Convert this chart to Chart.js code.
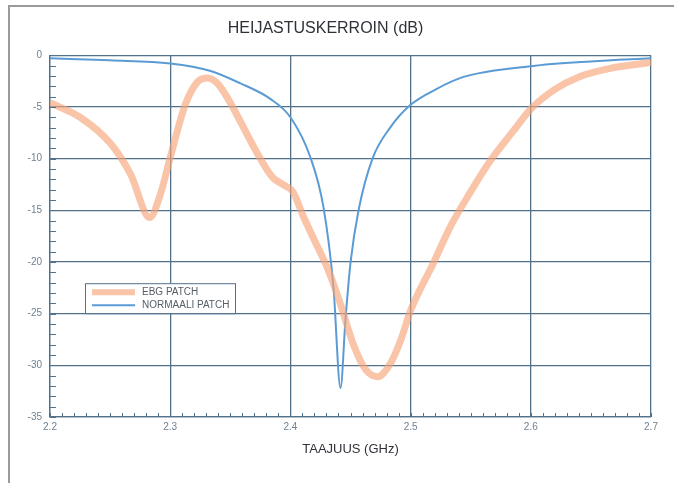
<!DOCTYPE html>
<html>
<head>
<meta charset="utf-8">
<script src="https://cdn.jsdelivr.net/npm/chart.js@4"></script>
<style>
  html, body { margin: 0; padding: 0; background: #fff; }
  #wrap { position: relative; width: 674px; height: 483px; }
  #frame { position: absolute; left: 8px; top: 5px; right: -10px; bottom: -10px;
           border-left: 2px solid #9a9a9a; border-top: 2px solid #9a9a9a; pointer-events: none; }
</style>
</head>
<body>
<div id="wrap">
  <canvas id="refChart" width="674" height="483"></canvas>
  <div id="frame"></div>
</div>
<script>
// data
const seriesNames = ['EBG PATCH', 'NORMAALI PATCH'];

const ebgFreq = [2.2, 2.225, 2.25, 2.267, 2.283, 2.2917, 2.3, 2.3125, 2.3225, 2.331, 2.339, 2.3475,
    2.3725, 2.385, 2.395, 2.402, 2.4108, 2.42, 2.4308, 2.44, 2.4525, 2.4625, 2.4725, 2.4833, 2.492,
    2.5, 2.519, 2.533, 2.55, 2.567, 2.585, 2.6, 2.62, 2.64, 2.665, 2.7];
const ebgValues = [-4.6, -6.0, -8.5, -11.5, -15.7, -13.5, -9.9, -4.8, -2.6, -2.2, -2.7, -4.1,
    -9.5, -11.8, -12.6, -13.2, -15.6, -17.9, -20.6, -23.5, -28, -30.4, -31.1, -29.8, -27.5,
    -24.7, -20.1, -16.6, -13.2, -10.1, -7.4, -5.2, -3.3, -2.1, -1.3, -0.7];

const normFreq = [2.2, 2.25, 2.3, 2.333, 2.358, 2.383, 2.4, 2.4167, 2.4275, 2.4358, 2.4417, 2.4458,
    2.45, 2.4567, 2.4683, 2.483, 2.5, 2.521, 2.544, 2.6, 2.65, 2.7];
const normValues = [-0.3, -0.5, -0.8, -1.5, -2.7, -4.2, -6.0, -9.9, -14.7, -22.4, -32.2, -25.6,
    -20.1, -15, -10, -7, -4.8, -3.3, -2.1, -1.06, -0.6, -0.3];

const xTicks = [2.2, 2.3, 2.4, 2.5, 2.6, 2.7];
const yTicks = [0, -5, -10, -15, -20, -25, -30, -35];

const gridColor = '#52718a';
const orange = 'rgba(246, 165, 120, 0.65)';
const blue = '#5b9bd5';

// minor ticks + legend box drawn inside the plot
const extras = {
    id: 'extras',
    afterDatasetsDraw(chart) {
        const {ctx, chartArea, scales} = chart;
        ctx.save();
        ctx.strokeStyle = gridColor;
        ctx.lineWidth = 1;
        ctx.beginPath();
        for (let v = 0; v >= -35; v -= 1) {
            const y = Math.round(scales.y.getPixelForValue(v)) + 0.5;
            ctx.moveTo(chartArea.left, y);
            ctx.lineTo(chartArea.left + 6, y);
        }
        for (let i = 0; i <= 50; i++) {
            const x = Math.round(scales.x.getPixelForValue(2.2 + i * 0.01)) + 0.5;
            ctx.moveTo(x, chartArea.bottom);
            ctx.lineTo(x, chartArea.bottom - 4);
        }
        ctx.stroke();

        // legend
        const lx = chartArea.left + 35, ly = chartArea.top + 228, lw = 150, lh = 30;
        ctx.fillStyle = '#fff';
        ctx.fillRect(lx, ly, lw, lh);
        ctx.strokeStyle = gridColor;
        ctx.strokeRect(lx + 0.5, ly + 0.5, lw, lh);
        const cols = [orange, blue];
        const widths = [6, 2];
        ctx.font = '10px "Liberation Sans", Arial, sans-serif';
        ctx.textBaseline = 'middle';
        seriesNames.forEach((name, i) => {
            const yy = ly + 9 + i * 13;
            ctx.strokeStyle = cols[i];
            ctx.lineWidth = widths[i];
            ctx.beginPath();
            ctx.moveTo(lx + 7, yy);
            ctx.lineTo(lx + 50, yy);
            ctx.stroke();
            ctx.fillStyle = '#555d66';
            ctx.fillText(name, lx + 57, yy);
        });
        ctx.restore();
    }
};

const ctx1 = document.getElementById('refChart').getContext('2d');
new Chart(ctx1, {
    type: 'line',
    data: {
        datasets: [{
            label: seriesNames[0],
            data: ebgFreq.map((f, i) => ({x: f, y: ebgValues[i]})),
            borderColor: orange,
            borderWidth: 7,
            pointRadius: 0,
            cubicInterpolationMode: 'monotone'
        }, {
            label: seriesNames[1],
            data: normFreq.map((f, i) => ({x: f, y: normValues[i]})),
            borderColor: blue,
            borderWidth: 2,
            pointRadius: 0,
            cubicInterpolationMode: 'monotone'
        }]
    },
    options: {
        responsive: false,
        animation: false,
        layout: { padding: { left: 0, right: 23, top: 0, bottom: 16 } },
        plugins: {
            legend: { display: false },
            tooltip: { enabled: false },
            title: {
                display: true,
                text: 'HEIJASTUSKERROIN (dB)',
                color: '#2e3238',
                font: { family: '"Liberation Sans", Arial, sans-serif', size: 16, weight: 'normal' },
                padding: { top: 19, bottom: 17 }
            }
        },
        scales: {
            x: {
                type: 'linear',
                min: 2.2,
                max: 2.7,
                afterBuildTicks: (scale) => { scale.ticks = xTicks.map(v => ({value: v})); },
                afterFit: (scale) => { scale.height = 50; },
                ticks: {
                    color: '#6f8193',
                    font: { family: '"Liberation Sans", Arial, sans-serif', size: 10 },
                    padding: 4,
                    maxRotation: 0,
                    callback: (v) => v.toFixed(1)
                },
                grid: { color: gridColor, lineWidth: 1.3, drawTicks: false },
                border: { color: gridColor, width: 1.3 },
                title: {
                    display: true,
                    text: 'TAAJUUS (GHz)',
                    color: '#2e3238',
                    font: { family: '"Liberation Sans", Arial, sans-serif', size: 13 },
                    padding: { top: 0, bottom: 10 }
                }
            },
            y: {
                min: -35,
                max: 0,
                afterBuildTicks: (scale) => { scale.ticks = yTicks.map(v => ({value: v})); },
                afterFit: (scale) => { scale.width = 50; },
                ticks: {
                    color: '#6f8193',
                    font: { family: '"Liberation Sans", Arial, sans-serif', size: 10 },
                    padding: 8
                },
                grid: { color: gridColor, lineWidth: 1.3, drawTicks: false },
                border: { color: gridColor, width: 1.3 }
            }
        }
    },
    plugins: [extras]
});
</script>
</body>
</html>
